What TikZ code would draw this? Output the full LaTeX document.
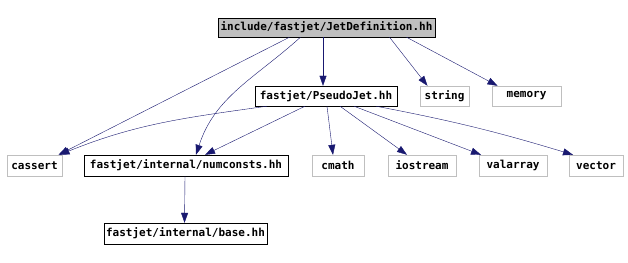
\documentclass[tikz,border=0pt]{standalone}
\usepackage{fontspec}
\setmonofont{DejaVu Sans Mono}
\usetikzlibrary{arrows.meta,positioning}
\usepackage{xcolor}
\definecolor{edgeblue}{RGB}{25,25,112}
\definecolor{sysgray}{RGB}{191,191,191}

\begin{document}
\begin{tikzpicture}[x=1pt, y=1pt,
  hdr/.style={draw=black, inner sep=0pt, minimum height=20pt, font=\ttfamily\bfseries\fontsize{11}{12}\selectfont},
  sys/.style={hdr, draw=sysgray},
  dep/.style={draw=edgeblue, -{Triangle[length=10pt, width=7pt]}}
]
  \useasboundingbox (0,0) rectangle (628,262);

  \node[hdr, fill=sysgray, minimum width=217pt, minimum height=19pt] (jetdef) at (326.5,234.5) {include/fastjet/JetDefinition.hh};

  \node[hdr, minimum width=142pt] (pseudojet) at (326,166) {fastjet/PseudoJet.hh};
  \node[sys, minimum width=49pt] (string) at (444.5,166) {string};
  \node[sys, minimum width=69pt] (memory) at (526.5,166) {memory};

  \node[sys, minimum width=55pt, minimum height=21pt] (cassert) at (34.5,96.5) {cassert};
  \node[hdr, minimum width=204pt, minimum height=21pt] (numconsts) at (186,96.5) {fastjet/internal/numconsts.hh};
  \node[sys, minimum width=52pt, minimum height=21pt] (cmath) at (338,96.5) {cmath};
  \node[sys, minimum width=68pt, minimum height=21pt] (iostream) at (422,96.5) {iostream};
  \node[sys, minimum width=68pt, minimum height=21pt] (valarray) at (513,96.5) {valarray};
  \node[sys, minimum width=54pt, minimum height=21pt] (vector) at (596,96.5) {vector};

  \node[hdr, minimum width=163pt, minimum height=21pt] (base) at (185.5,28.5) {fastjet/internal/base.hh};

  \draw[dep] ([xshift=-37pt]jetdef.south) -- ([xshift=24pt]cassert.north);
  \draw[dep] ([xshift=-26pt]jetdef.south) to[out=222, in=72] ([xshift=10pt]numconsts.north);
  \draw[dep] ([xshift=-3.5pt]jetdef.south) -- ([xshift=-3pt]pseudojet.north);
  \draw[dep] ([xshift=63pt]jetdef.south) -- ([xshift=-17pt]string.north);
  \draw[dep] ([xshift=80pt]jetdef.south) -- ([xshift=-29pt]memory.north);

  \draw[dep] ([xshift=-59pt]pseudojet.south) to[out=188, in=22] ([xshift=25pt]cassert.north);
  \draw[dep] ([xshift=-21pt]pseudojet.south) -- ([xshift=19pt]numconsts.north);
  \draw[dep] ([xshift=1pt]pseudojet.south) -- ([xshift=-5pt]cmath.north);
  \draw[dep] ([xshift=14pt]pseudojet.south) -- ([xshift=-15pt]iostream.north);
  \draw[dep] ([xshift=28pt]pseudojet.south) -- ([xshift=-32pt]valarray.north);
  \draw[dep] ([xshift=50pt]pseudojet.south) to[bend left=3] ([xshift=-23pt]vector.north);

  \draw[dep] ([xshift=-1pt]numconsts.south) -- ([xshift=-1pt]base.north);
\end{tikzpicture}
\end{document}
